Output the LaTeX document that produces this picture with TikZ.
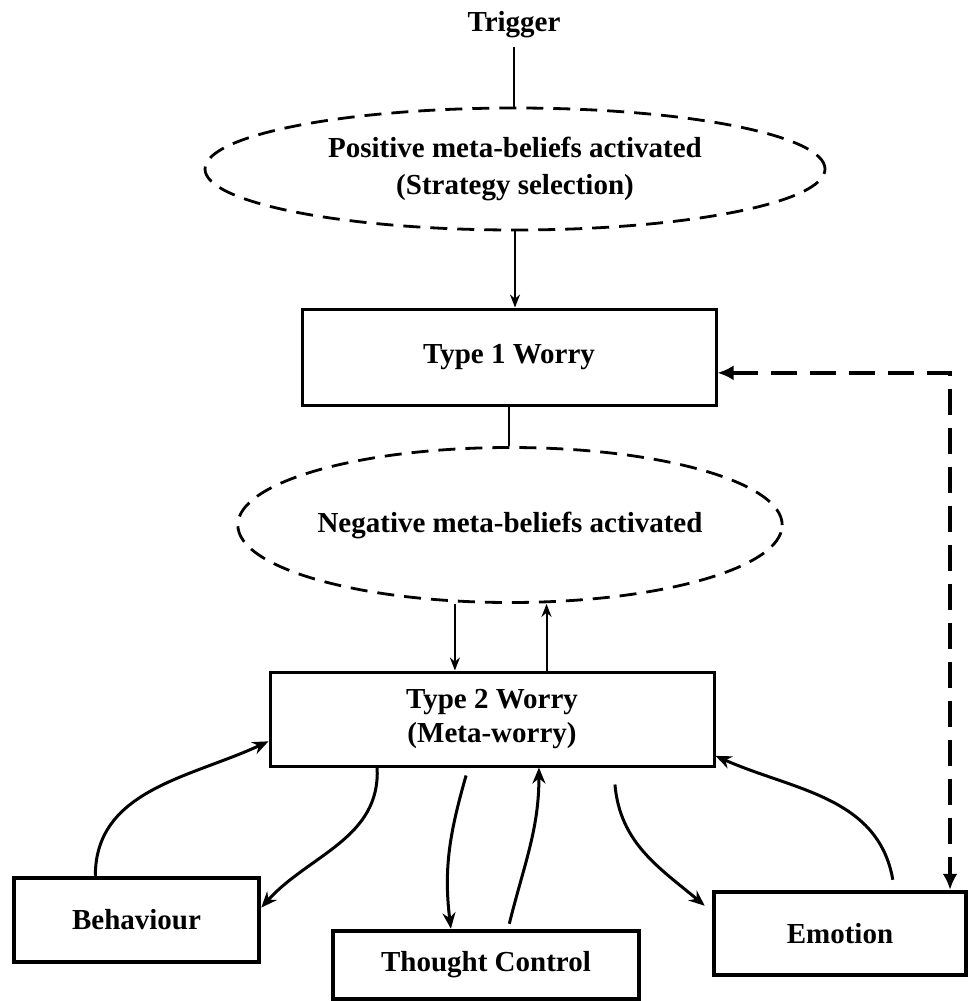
\documentclass[tikz,border=0pt]{standalone}
\usepackage{fontspec}
\setmainfont{Liberation Serif}
\usetikzlibrary{shapes.geometric,arrows.meta,calc}

\begin{document}
\begin{tikzpicture}[x=1pt,y=1pt,
    every node/.style={font=\fontsize{29}{34}\selectfont\bfseries, align=center},
    belief/.style={draw, ellipse, dash pattern=on 17pt off 10pt, line width=2.8pt, inner sep=0pt},
    worrybox/.style={draw, rectangle, line width=3pt, inner sep=0pt},
    outbox/.style={draw, rectangle, line width=4.5pt, inner sep=0pt},
    link/.style={line width=2pt, -{Stealth[length=13pt,width=10pt]}},
    cycle/.style={line width=3pt, -{Stealth[length=16pt,width=13pt]}},
    feedback/.style={line width=4.5pt, dash pattern=on 26pt off 13pt,
        {Latex[length=16pt,width=15pt]}-{Latex[length=16pt,width=15pt]}}]
    \useasboundingbox (0,0) rectangle (968,-1001);

    % nodes
    \node[anchor=base] (trig) at (514,-31) {Trigger};
    \node[belief, minimum width=620pt, minimum height=122pt] (pos) at (515,-169)
        {Positive meta-beliefs activated\\[3pt](Strategy selection)};
    \node[worrybox, minimum width=414pt, minimum height=96pt] (t1) at (509,-357) {Type 1 Worry};
    \node[belief, minimum width=465pt, minimum height=155pt] (neg) at (510,-525)
        {Negative meta-beliefs activated};
    \node[worrybox, minimum width=444pt, minimum height=94pt] (t2) at (492,-719)
        {Type 2 Worry\\(Meta-worry)};
    \node[outbox, minimum width=245pt, minimum height=84pt] (beh) at (136.5,-920) {Behaviour};
    \node[outbox, minimum width=306pt, minimum height=68pt] (thc) at (486,-965) {Thought Control};
    \node[outbox, minimum width=252pt, minimum height=83pt] (emo) at (840,-933.5) {Emotion};

    % attachment points
    \coordinate (downx) at ($(t2.north west)!0.417!(t2.north east)$);
    \coordinate (upx) at ($(t2.north west)!0.622!(t2.north east)$);
    \coordinate (fbin) at ($(t1.south east)!0.34!(t1.north east)$);
    \coordinate (fbout) at ($(emo.north west)!0.929!(emo.north east)$);

    % straight links
    \draw[line width=2pt, shorten <=6pt] (trig.south) -- (trig.south |- pos.north);
    \draw[link] (pos.south) -- (pos.south |- t1.north);
    \draw[line width=2pt] (t1.south) -- (t1.south |- neg.north);
    \draw[link] (downx |- neg.south) -- (downx);
    \draw[link] (upx) -- (upx |- neg.south);

    % feedback loop
    \draw[feedback] (fbin) -| (fbout);

    % type 2 cycles
    \draw[cycle] ($(beh.north west)!0.335!(beh.north east)$) to[out=90, in=205]
        ($(t2.south west)!0.27!(t2.north west)$);
    \draw[cycle] ($(t2.south west)!0.243!(t2.south east)$) to[out=-87, in=48]
        ($(beh.south east)!0.64!(beh.north east)$);
    \draw[cycle] ($(t2.south west)!0.442!(t2.south east)$) ++(0,-8) to[out=-106, in=97]
        ($(thc.north west)!0.387!(thc.north east)$);
    \draw[cycle] ($(thc.north west)!0.575!(thc.north east)$) ++(0,5) to[out=76, in=-90]
        ($(t2.south west)!0.605!(t2.south east)$);
    \draw[cycle] ($(t2.south west)!0.775!(t2.south east)$) ++(0,-17) to[out=-85, in=140]
        ($(emo.north west)+(-7,-16)$);
    \draw[cycle] ($(emo.north west)!0.706!(emo.north east)$) ++(0,10) to[out=100, in=-24]
        ($(t2.south east)!0.12!(t2.north east)$);
\end{tikzpicture}
\end{document}
